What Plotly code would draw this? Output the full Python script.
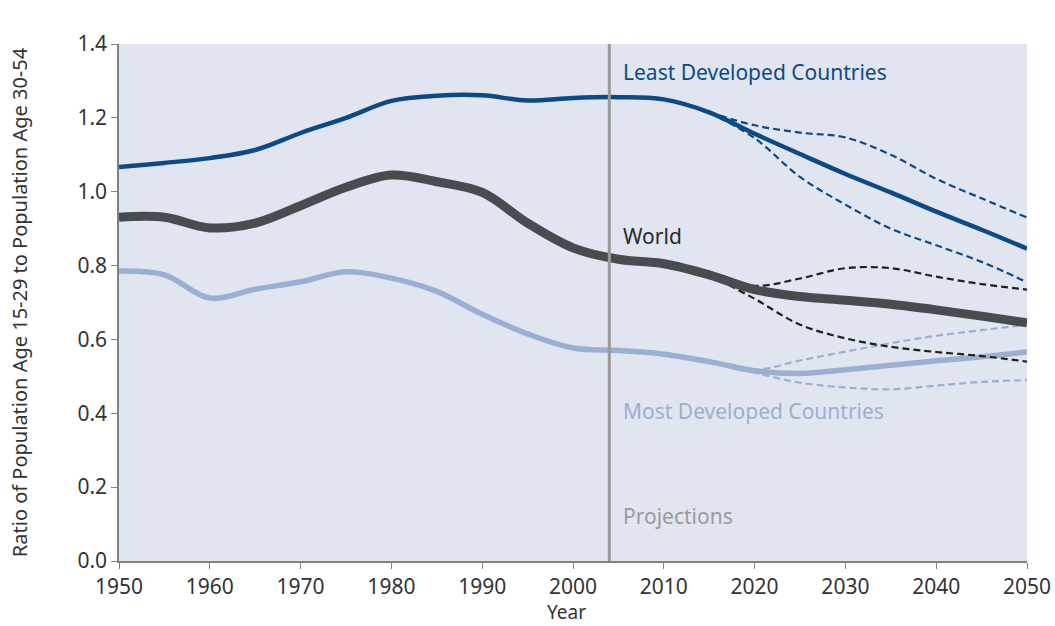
import plotly.graph_objects as go

YEARS_HIST = [1950, 1955, 1960, 1965, 1970, 1975, 1980, 1985, 1990, 1995, 2000,
              2005, 2010, 2015, 2020, 2025, 2030, 2035, 2040, 2045, 2050]
YEARS_PROJ = [2015, 2020, 2025, 2030, 2035, 2040, 2045, 2050]

ldc = [1.067, 1.078, 1.091, 1.113, 1.159, 1.20, 1.246, 1.260, 1.261, 1.247, 1.254,
       1.256, 1.250, 1.215, 1.157, 1.102, 1.048, 0.998, 0.946, 0.897, 0.846]
ldc_high = [1.215, 1.180, 1.160, 1.147, 1.100, 1.035, 0.982, 0.930]
ldc_low = [1.215, 1.145, 1.040, 0.965, 0.900, 0.855, 0.810, 0.755]

world = [0.931, 0.931, 0.902, 0.915, 0.962, 1.012, 1.045, 1.027, 0.998, 0.915, 0.848,
         0.817, 0.805, 0.775, 0.735, 0.716, 0.706, 0.695, 0.680, 0.663, 0.645]
world_high = [0.775, 0.745, 0.765, 0.793, 0.793, 0.770, 0.750, 0.735]
world_low = [0.775, 0.710, 0.640, 0.603, 0.580, 0.566, 0.555, 0.540]

mdc = [0.785, 0.775, 0.712, 0.736, 0.756, 0.783, 0.766, 0.730, 0.668, 0.615, 0.577,
       0.570, 0.560, 0.540, 0.515, 0.508, 0.518, 0.530, 0.542, 0.553, 0.566]
mdc_high = [0.540, 0.518, 0.543, 0.567, 0.590, 0.610, 0.625, 0.640]
mdc_low = [0.540, 0.510, 0.483, 0.470, 0.465, 0.475, 0.485, 0.490]

PROJECTION_START = 2004

LDC_C = "#0b4a86"
WORLD_C = "#474c4e"
MDC_C = "#9bafd2"
FONT = "Noto Sans"

fig = go.Figure()

def dashed(y, color):
    fig.add_trace(go.Scatter(x=YEARS_PROJ, y=y, mode="lines",
                             line=dict(color=color, width=2.2, dash="7px,4px", shape="spline"),
                             showlegend=False, hoverinfo="skip"))

dashed(mdc_high, MDC_C)
dashed(mdc_low, MDC_C)
fig.add_trace(go.Scatter(x=YEARS_HIST, y=mdc, mode="lines",
                         line=dict(color=MDC_C, width=5.5, shape="spline"), showlegend=False))
dashed(world_high, "#1e2022")
dashed(world_low, "#1e2022")
fig.add_trace(go.Scatter(x=YEARS_HIST, y=world, mode="lines",
                         line=dict(color=WORLD_C, width=9, shape="spline"), showlegend=False))
dashed(ldc_high, LDC_C)
dashed(ldc_low, LDC_C)
fig.add_trace(go.Scatter(x=YEARS_HIST, y=ldc, mode="lines",
                         line=dict(color=LDC_C, width=4.5, shape="spline"), showlegend=False))

fig.add_vline(x=PROJECTION_START, line=dict(color="#9a9a9a", width=3))

labels = [("Least Developed Countries", 1.324, LDC_C),
          ("World", 0.88, "#2a2a2a"),
          ("Most Developed Countries", 0.406, MDC_C),
          ("Projections", 0.122, "#9a9a9a")]
for text, yv, col in labels:
    fig.add_annotation(x=2005.3, y=yv, text=text, showarrow=False, xanchor="left",
                       font=dict(family=FONT, size=21, color=col))

# x axis title as an annotation so it can sit lower than the standoff allows
fig.add_annotation(x=0.493, y=-0.099, xref="paper", yref="paper", text="Year",
                   xanchor="center", yanchor="middle", showarrow=False,
                   font=dict(family=FONT, size=19, color="#333333"))

axis_common = dict(showline=True, linecolor="#808080", linewidth=1.5, ticks="outside",
                   tickcolor="#808080", ticklen=6, showgrid=False, zeroline=False,
                   automargin=False, ticklabeloverflow="allow",
                   tickfont=dict(family=FONT, size=21, color="#333333"))

fig.update_xaxes(range=[1950, 2050], tick0=1950, dtick=10, **axis_common)
fig.update_yaxes(range=[0, 1.4], dtick=0.2, tickformat=".1f",
                 title_text="Ratio of Population Age 15-29 to Population Age 30-54",
                 title_standoff=44, title_font=dict(family=FONT, size=20, color="#333333"),
                 **axis_common)

fig.update_layout(
    width=1055, height=626,
    margin=dict(l=119, r=28, t=44, b=65),
    plot_bgcolor="#e1e5f0",
    paper_bgcolor="white",
)

# drop the default 8px page margin so the figure fills the window exactly
fig.write_html("out.html", config={"displayModeBar": False},
               post_script="document.body.style.margin='0';")
